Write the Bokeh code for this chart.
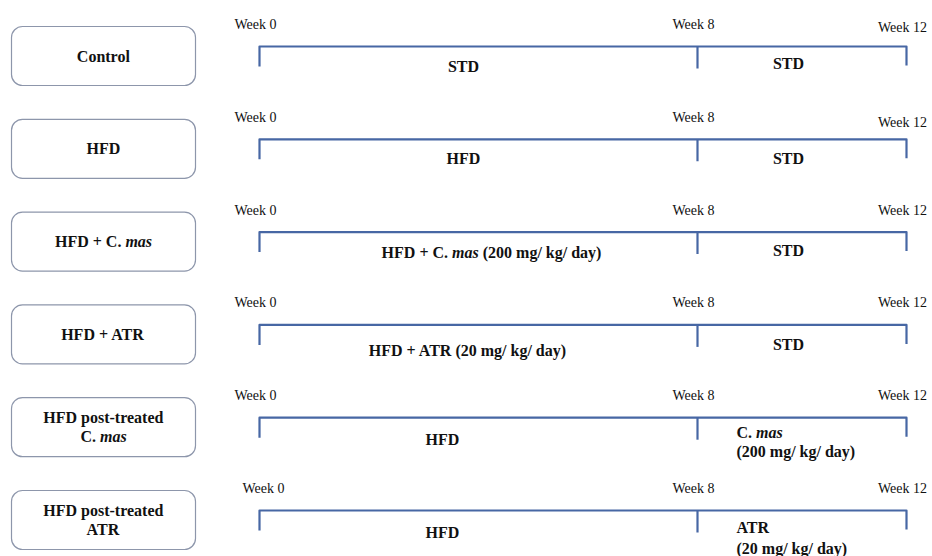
from bokeh.plotting import figure
from bokeh.models import Range1d
from bokeh.core.properties import value
from bokeh.embed import file_html
from bokeh.resources import INLINE

# ---------------- data ----------------
groups = ["Control", "HFD", "HFD + C. _mas_", "HFD + ATR",
          "HFD post-treated\nC. _mas_", "HFD post-treated\nATR"]
weeks = [0, 8, 12]
week_labels = ["Week 0", "Week 8", "Week 12"]
phase1 = ["STD", "HFD", "HFD + C. _mas_ (200 mg/ kg/ day)",
          "HFD + ATR (20 mg/ kg/ day)", "HFD", "HFD"]
phase2 = ["STD", "STD", "STD", "STD",
          "C. _mas_\n(200 mg/ kg/ day)", "ATR\n(20 mg/ kg/ day)"]

# ---------------- layout / style ----------------
W, H = 932, 556
FONT = "Liberation Serif"
LINE_C = "#4767a4"
BOX_C = "#8d96ab"
TXT_C = "#111111"
week_px = {0: 259, 8: 697, 12: 906}
row_y0, row_step = 46, 92.8
box_l, box_r = 11, 195
week0_dx = [0, 0, 0, 0, 0, 8]
week12_dy = [3, 5, 0, 0, 0, 0]
p1_cx = [463, 463, 491, 468, 442, 442]
p1_dy = [20, 19, 20, 26, 22, 22]
p2_cx = 788
p2_dy = [17, 19, 18, 20, 15, 17]
p2_left = 736
p2_gap = [19, 19, 19, 19, 19, 21]
FS = 16

# Times/Liberation Serif bold metrics (1/1000 em)
BOLD = {" ": 250, "(": 333, ")": 333, "+": 570, "-": 333, ".": 250, "/": 278,
        "0": 500, "1": 500, "2": 500, "A": 722, "C": 722, "D": 722, "F": 611,
        "H": 778, "R": 722, "S": 556, "T": 667, "a": 500, "d": 556, "e": 444,
        "g": 500, "k": 556, "l": 278, "m": 833, "n": 556, "o": 500, "p": 556,
        "r": 444, "s": 389, "t": 333, "y": 500}
BOLD_IT = dict(BOLD, m=778, C=667)


def segments(line):
    parts = line.split("_")
    return [(t, i % 2 == 1) for i, t in enumerate(parts) if t]


def seg_width(t, it, size):
    tab = BOLD_IT if it else BOLD
    return sum(tab.get(ch, 500) for ch in t) * size / 1000.0


bold = dict(x=[], y=[], text=[])
ital = dict(x=[], y=[], text=[])


def put_rich(line, x, y, size, align):
    segs = segments(line)
    total = sum(seg_width(t, it, size) for t, it in segs)
    cx = x - total / 2 if align == "center" else x
    for t, it in segs:
        d = ital if it else bold
        lead = len(t) - len(t.lstrip(" "))
        core = t.strip(" ")
        if core:
            d["x"].append(cx + seg_width(" " * lead, it, size))
            d["y"].append(y)
            d["text"].append(core)
        cx += seg_width(t, it, size)


p = figure(width=W, height=H, x_range=Range1d(0, W), y_range=Range1d(H, 0),
           output_backend="svg", toolbar_location=None, min_border=0, tools="")
p.axis.visible = False
p.grid.visible = False
p.outline_line_color = None
p.background_fill_color = "white"
p.border_fill_color = "white"

rows_y = [row_y0 + i * row_step for i in range(len(groups))]

# left boxes
tops = [y - 20 for y in rows_y]
bots = [y + 39 for y in rows_y]
p.quad(left=[box_l] * len(groups), right=[box_r] * len(groups), top=tops, bottom=bots,
       fill_color="white", line_color=BOX_C, line_width=1.2, border_radius=11)

# timelines
xs, ys = [], []
x0, x8, x12 = (week_px[w] for w in weeks)
for y in rows_y:
    xs.append([x0, x0, x12, x12])
    ys.append([y + 20, y, y, y + 19])
    xs.append([x8, x8])
    ys.append([y, y + 22])
p.multi_line(xs, ys, line_color=LINE_C, line_width=2.2, line_join="round")

# week labels
wk = dict(x=[], y=[], text=[])
for i, y in enumerate(rows_y):
    for w, lab in zip(weeks, week_labels):
        dx = week0_dx[i] if w == 0 else 0
        dy = week12_dy[i] if w == 12 else 0
        wk["x"].append(week_px[w] - 4 + dx)
        wk["y"].append(y - 22 + dy)
        wk["text"].append(lab)
p.text(x="x", y="y", text="text", source=wk, text_font=value(FONT), text_font_size="14px",
       text_align="center", text_baseline="middle", text_color=TXT_C)

# group labels in boxes
for i, (g, y) in enumerate(zip(groups, rows_y)):
    lines = g.split("\n")
    n = len(lines)
    cy = (tops[i] + bots[i]) / 2 if n == 1 else y + 9.5
    for k, ln in enumerate(lines):
        put_rich(ln, (box_l + box_r) / 2, cy + (k - (n - 1) / 2) * 19, FS, "center")

# phase labels
for i, y in enumerate(rows_y):
    put_rich(phase1[i], p1_cx[i], y + p1_dy[i], FS, "center")
    lines = phase2[i].split("\n")
    if len(lines) == 1:
        put_rich(lines[0], p2_cx, y + p2_dy[i], FS, "center")
    else:
        for k, ln in enumerate(lines):
            put_rich(ln, p2_left, y + p2_dy[i] + k * p2_gap[i], FS, "left")

p.text(x="x", y="y", text="text", source=bold, text_font=value(FONT), text_font_size=f"{FS}px",
       text_font_style="bold", text_align="left", text_baseline="middle", text_color=TXT_C)
p.text(x="x", y="y", text="text", source=ital, text_font=value(FONT), text_font_size=f"{FS}px",
       text_font_style="bold italic", text_align="left", text_baseline="middle", text_color=TXT_C)

open("out.html", "w").write(file_html(p, INLINE))
